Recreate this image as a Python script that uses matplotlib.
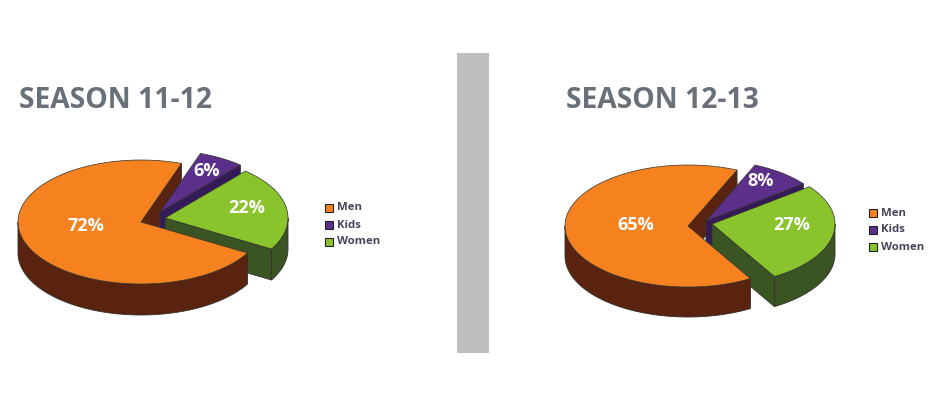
"""Two exploded pseudo-3D pies, season 11-12 vs season 12-13."""
import matplotlib
matplotlib.use("Agg")
import matplotlib.pyplot as plt
import numpy as np
from matplotlib.patches import Polygon, Rectangle

CATEGORIES = ["Men", "Kids", "Women"]
SEASONS = ["SEASON 11-12", "SEASON 12-13"]
SHARE_1112 = [72, 6, 22]
SHARE_1213 = [65, 8, 27]

TOP = ["#F5821F", "#5C2F8A", "#8AC42C"]
SIDE = ["#59230F", "#351A5A", "#3B5423"]
EDGE = "#33302c"
GREY = "#6A7077"

plt.rcParams["font.family"] = ["Open Sans", "DejaVu Sans"]


def ell(cx, cy, a, b, deg):
    t = np.radians(deg)
    return np.column_stack([cx + a * np.cos(t), cy - b * np.sin(t)])


def front_ranges(lo, hi):
    # parts of the rim that face the viewer
    out = []
    for k in range(-2, 3):
        s, e = max(lo, 180 + 360 * k), min(hi, 360 + 360 * k)
        if e > s:
            out.append((s, e))
    return out


def wedge(ax, tip, a, b, depth, lo, hi, top, side, z_top, z_cut=None):
    cx, cy = tip
    pts = ell(cx, cy, a, b, np.linspace(lo, hi, 120))
    for s, e in front_ranges(lo, hi):
        rim = ell(cx, cy, a, b, np.linspace(s, e, 80))
        low = rim[::-1] + [0, depth]
        ax.add_patch(Polygon(np.vstack([rim, low]), fc=side, ec=EDGE, lw=0.6, zorder=z_top))
    for ang, show in ((lo, np.cos(np.radians(lo)) > 0), (hi, np.cos(np.radians(hi)) < 0)):
        if show:
            p = ell(cx, cy, a, b, [ang])[0]
            face = [(cx, cy), p, p + [0, depth], (cx, cy + depth)]
            ax.add_patch(Polygon(face, fc=side, ec=EDGE, lw=0.6,
                                 zorder=z_top if z_cut is None else z_cut))
    ax.add_patch(Polygon(np.vstack([[tip], pts]), fc=top, ec=EDGE, lw=0.5, zorder=z_top))


def pie3d(ax, values, centre, a, b, depth, start, tips):
    # clockwise from the Men wedge's trailing edge
    sweeps = np.array(values) / sum(values) * 360
    hi = start
    for i, sw in enumerate(sweeps):
        lo = hi - sw
        z = {0: 4, 1: 2, 2: 3}[i]
        tip = (centre[0] + tips[i][0], centre[1] + tips[i][1])
        wedge(ax, tip, a, b, depth, lo, hi, TOP[i], SIDE[i], z, z_cut=1 if i == 0 else None)
        hi = lo


fig = plt.figure(figsize=(9.45, 3.95), dpi=100)
ax = fig.add_axes([0, 0, 1, 1])
ax.set_xlim(0, 945)
ax.set_ylim(395, 0)
ax.axis("off")

ax.add_patch(Rectangle((457, 53), 32, 300, fc="#BCBEC0", ec="none"))

pie3d(ax, SHARE_1112, (141, 222), 123, 62, 31, -30,
      [(0, 0), (19, -10), (24, -4)])
pie3d(ax, SHARE_1213, (688, 226), 123, 61, 30, -59.5,
      [(0, 0), (18, -5), (24, -2)])

ax.text(19, 100, SEASONS[0], fontsize=20.3, fontweight="bold", color=GREY, va="center", ha="left")
ax.text(566, 100, SEASONS[1], fontsize=20.3, fontweight="bold", color=GREY, va="center", ha="left")

label_xy_l = [(86, 226), (207, 171), (247, 208)]
label_xy_r = [(636, 225), (761, 181), (792, 225)]
for vals, xy in ((SHARE_1112, label_xy_l), (SHARE_1213, label_xy_r)):
    for v, (x, y) in zip(vals, xy):
        ax.text(x, y, f"{v}%", color="white", fontsize=13, fontweight="bold",
                ha="center", va="center", zorder=6)

for x0, ys in ((325, (208, 225, 242)), (869, (213, 230, 247))):
    for i, y in enumerate(ys):
        ax.add_patch(Rectangle((x0, y - 4), 8, 8, fc=TOP[i], ec="#222222", lw=0.8, zorder=5))
        ax.text(x0 + 12, y, CATEGORIES[i], color="#45455A", fontsize=8.2, fontweight="bold",
                ha="left", va="center", zorder=5)

fig.savefig("out.png", dpi=100, facecolor="white")
